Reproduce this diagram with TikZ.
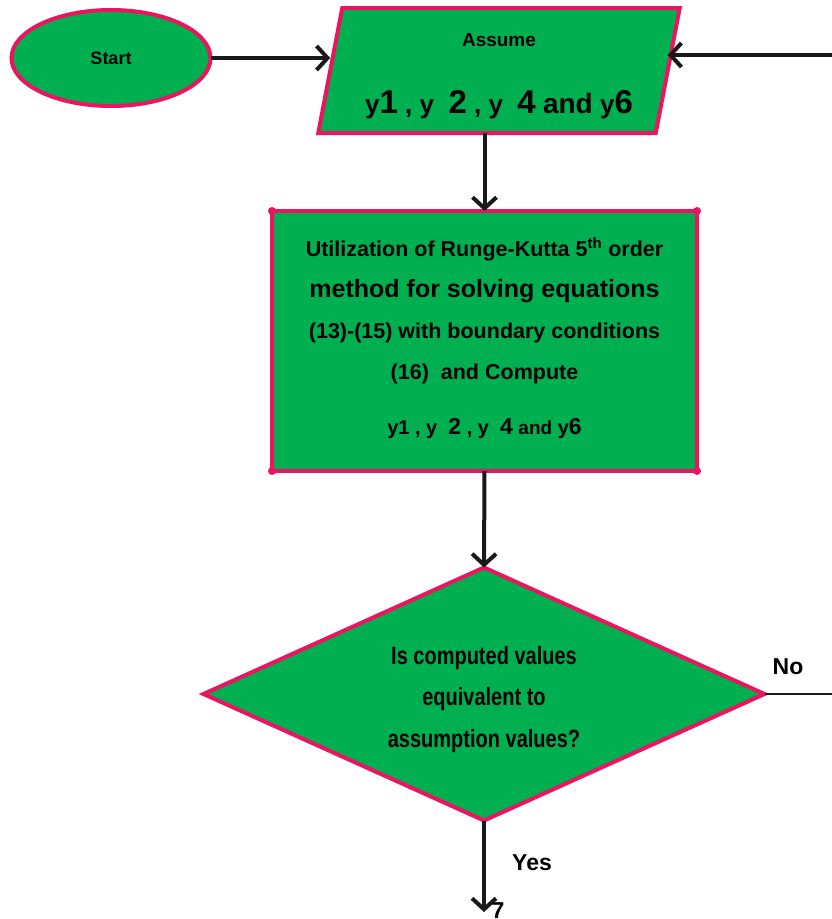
\documentclass[tikz,border=0pt]{standalone}
\usepackage{fontspec}
\setmainfont{Liberation Sans}
\newfontfamily\narrowsans{Liberation Sans}[FakeStretch=0.8]
\usetikzlibrary{shapes.geometric,arrows.meta}
\definecolor{boxgreen}{RGB}{0,176,80}
\definecolor{boxpink}{RGB}{236,20,96}
\newcommand{\bigdigit}[2]{{\fontsize{#1}{#1}\selectfont #2}}
\tikzset{
  flowbox/.style={fill=boxgreen, draw=boxpink, line width=4pt, outer sep=0pt,
    inner sep=0pt, font=\bfseries, align=center},
  flowarrow/.style={draw=black!90, line width=4pt,
    -{Straight Barb[length=11pt,width=24pt]}},
}
\begin{document}
\begin{tikzpicture}[x=1pt,y=-1pt]
  \useasboundingbox (0,0) rectangle (832,919);
  % shapes
  \node[flowbox, ellipse, minimum width=199pt, minimum height=96pt] (start)
    at (111,58) {\fontsize{18}{22}\selectfont Start};
  \node[flowbox, trapezium, trapezium left angle=78, trapezium right angle=102,
    trapezium stretches=true, minimum width=362pt, minimum height=125pt,
    font=\bfseries\fontsize{19}{67}\selectfont] (assume) at (499,70.5)
    {\rule{0pt}{24pt}Assume\\
     {\fontsize{26}{67}\selectfont y\bigdigit{33}{1} , y\ \ \bigdigit{33}{2} , y\ \ \bigdigit{33}{4}
      {\fontsize{28}{67}\selectfont and} y\bigdigit{33}{6}}};
  \node[flowbox, rectangle, minimum width=425pt, minimum height=260pt,
    font=\bfseries\fontsize{21.5}{41}\selectfont] (rk) at (484.5,341)
    {Utilization of Runge-Kutta 5\textsuperscript{th} order\\
     {\fontsize{25}{41}\selectfont method for solving equations}\\
     (13)-(15) with boundary conditions\\
     (16)\ \ and Compute\\[14pt]
     {\fontsize{20}{41}\selectfont y1 , y\ \ \bigdigit{23}{2} , y\ \ \bigdigit{23}{4}
      {\fontsize{19}{41}\selectfont and} y\bigdigit{23}{6}}\rule[-10pt]{0pt}{10pt}};
  \foreach \c in {north west, north east, south west, south east}
    \fill[boxpink] (rk.\c) circle (4pt);
  \node[flowbox, diamond, aspect=2.2, minimum width=561pt, minimum height=253pt,
    font=\narrowsans\bfseries\fontsize{25}{41.5}\selectfont] (check) at (484,694)
    {\rule{0pt}{29pt}Is computed values\\ equivalent to\\ assumption values?};
  % loose ends
  \coordinate (loopin) at (832,55);
  \coordinate (loopout) at (832,694);
  \coordinate (yesend) at (484,912);
  % connectors
  \draw[flowarrow] (start.east) -- (start.east -| assume.west);
  \draw[flowarrow] (loopin) -- (loopin -| assume.east);
  \draw[flowarrow] (rk.north |- assume.south) -- (rk.north);
  \draw[flowarrow] (rk.south) -- (check.north);
  \draw[draw=black!90, line width=2pt] (check.east) -- (loopout);
  \draw[flowarrow] (check.south) -- (yesend);
  % labels
  \node[font=\bfseries\fontsize{23}{23}\selectfont] (nolabel) at (788,667) {No};
  \node[font=\bfseries\fontsize{23}{23}\selectfont] (yeslabel) at (532,863) {Yes};
  \node[font=\bfseries\fontsize{23}{23}\selectfont] (nextstep) at (498,911) {7};
\end{tikzpicture}
\end{document}
